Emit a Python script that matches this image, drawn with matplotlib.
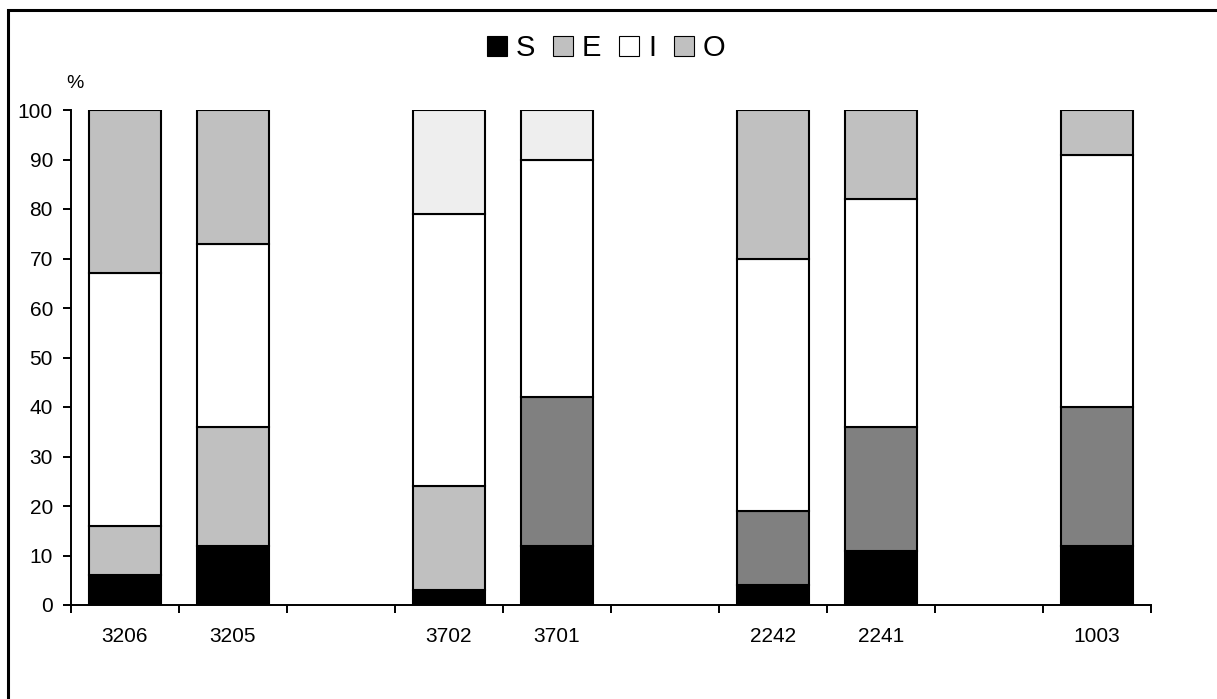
import numpy as np
import matplotlib
matplotlib.use('Agg')
import matplotlib.pyplot as plt
from matplotlib.patches import Patch, Rectangle

plt.rcParams['font.family'] = ['Liberation Sans', 'DejaVu Sans']

# sites, with empty slots between the groups
categories = ['3206', '3205', '', '3702', '3701', '', '2242', '2241', '', '1003']
s_vals = [6, 12, None, 3, 12, None, 4, 11, None, 12]
e_vals = [10, 24, None, 21, 30, None, 15, 25, None, 28]
i_vals = [51, 37, None, 55, 48, None, 51, 46, None, 51]
o_vals = [33, 27, None, 21, 10, None, 30, 18, None, 9]

LIGHT = '#c0c0c0'
DARK = '#808080'
PALE = '#eeeeee'
e_colors = [LIGHT, LIGHT, None, LIGHT, DARK, None, DARK, DARK, None, DARK]
o_colors = [LIGHT, LIGHT, None, PALE, PALE, None, LIGHT, LIGHT, None, LIGHT]

fig = plt.figure(figsize=(12.17, 6.99), dpi=100)
ax = fig.add_axes([71 / 1217, 1 - 605 / 699, 1080 / 1217, 495 / 699])

lw = 1.5
for i, cat in enumerate(categories):
    if s_vals[i] is None:
        continue
    bottom = 0
    segs = [(s_vals[i], 'black'), (e_vals[i], e_colors[i]),
            (i_vals[i], 'white'), (o_vals[i], o_colors[i])]
    for h, c in segs:
        ax.bar(i, h, bottom=bottom, width=0.667, color=c,
               edgecolor='black', linewidth=lw)
        bottom += h

ax.set_xlim(-0.5, len(categories) - 0.5)
ax.set_ylim(0, 100)
ax.set_yticks(np.arange(0, 101, 10))
ax.set_xticks(np.arange(-0.5, len(categories), 1.0))
ax.set_xticklabels([])
ax.set_xticks(np.arange(len(categories)), minor=True)
ax.set_xticklabels(categories, minor=True)
ax.tick_params(axis='x', which='major', direction='out', length=6, width=1.4)
ax.tick_params(axis='x', which='minor', length=0, pad=16, labelsize=15)
ax.tick_params(axis='y', direction='out', length=6, width=1.4, pad=7, labelsize=15)

for side in ['top', 'right']:
    ax.spines[side].set_visible(False)
for side in ['left', 'bottom']:
    ax.spines[side].set_linewidth(1.4)

fig.text(75 / 1217, 1 - 83 / 699, '%', ha='center', va='center', fontsize=14)

handles = [Patch(facecolor='black', edgecolor='black', linewidth=0.8),
           Patch(facecolor=LIGHT, edgecolor='black', linewidth=0.8),
           Patch(facecolor='white', edgecolor='black', linewidth=0.8),
           Patch(facecolor=LIGHT, edgecolor='black', linewidth=0.8)]
fig.legend(handles, ['S', 'E', 'I', 'O'], loc='center',
           bbox_to_anchor=(606 / 1217, 1 - 48 / 699), ncol=4, frameon=False,
           fontsize=21, handlelength=0.7, handleheight=0.7,
           handletextpad=0.3, columnspacing=0.6)

# outer frame around the chart area
fig.patches.append(Rectangle((8 / 1217, -0.1), 1.2, 1.1 - 10 / 699,
                             transform=fig.transFigure, fill=False,
                             edgecolor='black', linewidth=2.2))

fig.savefig('out.png', dpi=100)
